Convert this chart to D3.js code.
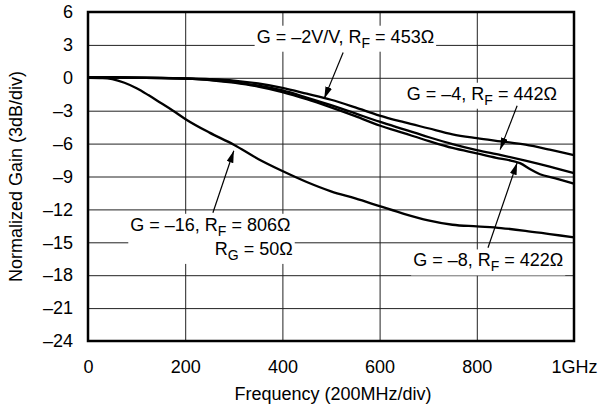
<!DOCTYPE html>
<html>
<head>
<meta charset="utf-8">
<script src="https://cdn.jsdelivr.net/npm/d3@7"></script>
<style>
    body { margin: 0; background: #fff; }
    text { font-family: "Liberation Sans", Arial, sans-serif; fill: #000; }
</style>
</head>
<body>
<div id="chart"></div>
<script>
// gain curves (MHz, dB)
const freqA = [0, 50, 100, 150, 200, 250, 300, 350, 400, 450, 500, 550, 600, 650, 700, 750, 800, 850, 900, 950, 1000]
const gainG2 = [0.05, 0.05, 0.03, 0, -0.05, -0.12, -0.25, -0.52, -0.92, -1.45, -2.0, -2.7, -3.45, -4.05, -4.6, -5.15, -5.5, -5.8, -6.1, -6.55, -7.05]
const gainG4 = [0.05, 0.03, 0, -0.02, -0.07, -0.18, -0.4, -0.72, -1.15, -1.8, -2.5, -3.25, -4.0, -4.7, -5.4, -6.05, -6.6, -7.05, -7.55, -8.1, -8.7]
const freqG8 = [0, 50, 100, 150, 200, 250, 300, 350, 400, 450, 500, 550, 600, 650, 700, 750, 800, 840, 870, 890, 910, 930, 960, 1000]
const gainG8 = [0.05, 0.03, 0, -0.03, -0.08, -0.2, -0.45, -0.8, -1.3, -1.95, -2.7, -3.5, -4.35, -5.05, -5.75, -6.4, -6.9, -7.3, -7.55, -7.8, -8.35, -8.8, -9.15, -9.65]
const freqG16 = [0, 30, 50, 75, 100, 125, 150, 175, 200, 250, 300, 350, 400, 450, 500, 550, 600, 650, 700, 750, 800, 850, 900, 950, 1000]
const gainG16 = [0, -0.02, -0.12, -0.45, -0.95, -1.6, -2.3, -3.0, -3.75, -5.0, -6.1, -7.4, -8.5, -9.5, -10.35, -11.0, -11.7, -12.4, -13.0, -13.4, -13.55, -13.7, -13.95, -14.25, -14.55]

// ticks
const xTicks = [0, 200, 400, 600, 800, 1000]
const xTickLabels = ['0', '200', '400', '600', '800', '1GHz']
const yTicks = [6, 3, 0, -3, -6, -9, -12, -15, -18, -21, -24]

// annotations: text pieces [before, subscript, after], start points and arrows in (MHz, dB)
const annoLines = [
    [['G = –2V/V, R', 'F', ' = 453Ω']],
    [['G = –4, R', 'F', ' = 442Ω']],
    [['G = –8, R', 'F', ' = 422Ω']],
    [['G = –16, R', 'F', ' = 806Ω'], ['R', 'G', ' = 50Ω']]
]
const annoPos = [
    [[347, 3.2]],
    [[656, -2.0]],
    [[669, -17.2]],
    [[87, -13.95], [261, -16.15]]
]
const arrowFrom = [[525, 2.3], [883, -2.55], [823, -15.5], [257, -12.3]]
const arrowTo = [[486, -1.9], [848, -6.55], [883, -7.75], [300, -6.65]]

const margin = { top: 12, right: 26, bottom: 67, left: 88 }
const width = 600 - margin.left - margin.right
const height = 408 - margin.top - margin.bottom

const root = d3.select('#chart')
    .append('svg')
    .attr('width', 600)
    .attr('height', 408)

root.append('defs')
    .append('marker')
    .attr('id', 'head')
    .attr('markerUnits', 'userSpaceOnUse')
    .attr('markerWidth', 13)
    .attr('markerHeight', 8)
    .attr('refX', 12)
    .attr('refY', 3.5)
    .attr('orient', 'auto')
    .append('path')
    .attr('d', 'M0,0 L12,3.5 L0,7 Z')
    .style('fill', '#000')

const svg = root.append('g')
    .attr('transform', `translate(${margin.left}, ${margin.top})`)

const xScale = d3.scaleLinear().domain([0, 1000]).range([0, width])
const yScale = d3.scaleLinear().domain([-24, 6]).range([height, 0])

const fmt = v => v < 0 ? '–' + Math.abs(v) : String(v)

//grid + y labels
const yaxis = d3.axisLeft(yScale)
    .tickValues(yTicks)
    .tickSize(-width)
    .tickPadding(15)
    .tickFormat(fmt)
svg.append('g').attr('class', 'axis').call(yaxis)

//grid + x labels
const xaxis = d3.axisBottom(xScale)
    .tickValues(xTicks)
    .tickSize(-height)
    .tickPadding(19)
    .tickFormat((d, i) => xTickLabels[i])
svg.append('g')
    .attr('class', 'axis')
    .attr('transform', 'translate(0,' + height + ')')
    .call(xaxis)

svg.selectAll('.axis .domain').remove()
svg.selectAll('.axis line').attr('stroke', '#222').attr('stroke-width', 1)
svg.selectAll('.axis text').style('font-size', '18px').attr('fill', '#000')

//annotation text, white boxes under them
const annoG = svg.append('g')
annoLines.forEach((lines, k) => {
    const g = annoG.append('g')
    lines.forEach((parts, j) => {
        const p = annoPos[k][j]
        const t = g.append('text')
            .attr('x', xScale(p[0]))
            .attr('y', yScale(p[1]))
            .style('font-size', '18px')
        t.append('tspan').text(parts[0])
        t.append('tspan').attr('dy', 5).style('font-size', '14px').text(parts[1])
        t.append('tspan').attr('dy', -5).text(parts[2])
    })
    const bb = g.node().getBBox()
    g.insert('rect', ':first-child')
        .attr('x', bb.x - 2)
        .attr('y', bb.y - 1)
        .attr('width', bb.width + 4)
        .attr('height', bb.height + 2)
        .style('fill', '#fff')
})

//curves
const line = d3.line()
    .x(d => xScale(d[0]))
    .y(d => yScale(d[1]))
    .curve(d3.curveMonotoneX)

const series = [
    d3.zip(freqA, gainG2),
    d3.zip(freqA, gainG4),
    d3.zip(freqG8, gainG8),
    d3.zip(freqG16, gainG16)
]
svg.selectAll('.curve')
    .data(series)
    .enter()
    .append('path')
    .attr('class', 'curve')
    .attr('d', line)
    .style('fill', 'none')
    .attr('stroke', '#000')
    .attr('stroke-width', 2.3)
    .attr('stroke-linejoin', 'round')

//arrows
svg.selectAll('.arrow')
    .data(arrowFrom)
    .enter()
    .append('line')
    .attr('class', 'arrow')
    .attr('x1', d => xScale(d[0]))
    .attr('y1', d => yScale(d[1]))
    .attr('x2', (d, i) => xScale(arrowTo[i][0]))
    .attr('y2', (d, i) => yScale(arrowTo[i][1]))
    .attr('stroke', '#000')
    .attr('stroke-width', 1.2)
    .attr('marker-end', 'url(#head)')

//plot border
svg.append('rect')
    .attr('width', width)
    .attr('height', height)
    .style('fill', 'none')
    .attr('stroke', '#000')
    .attr('stroke-width', 2.5)

//y label
svg.append('text')
    .attr('transform', 'rotate(-90)')
    .attr('y', 16 - margin.left)
    .attr('x', 0 - (height / 2))
    .attr('dy', '0.35em')
    .style('text-anchor', 'middle')
    .style('font-size', '18px')
    .text('Normalized Gain (3dB/div)')

//x label
svg.append('text')
    .attr('x', width / 2 + 2)
    .attr('y', 400 - margin.top)
    .style('text-anchor', 'middle')
    .style('font-size', '18px')
    .text('Frequency (200MHz/div)')
</script>
</body>
</html>
